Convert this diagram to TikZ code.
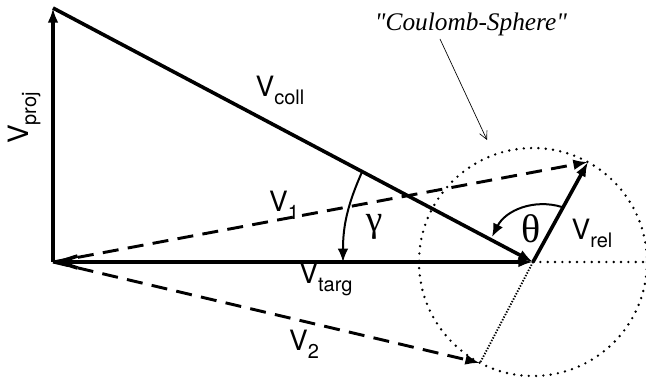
\documentclass[tikz,border=0pt]{standalone}
\usepackage{fontspec}
\setmainfont{TeX Gyre Heros}
\newfontfamily\serifit{Liberation Serif}
\usepackage{tikz}
\usetikzlibrary{arrows.meta}
\usetikzlibrary{calc}

\newcommand{\vel}[1]{V\raisebox{-6pt}{\fontsize{15}{15}\selectfont #1}}

\begin{document}
\begin{tikzpicture}[x=0.75pt,y=-0.75pt,
    vec/.style={line width=2.7pt,-{Latex[length=11pt,width=8pt]}},
    dvec/.style={line width=2.2pt,dash pattern=on 12pt off 7pt,-{Latex[length=11pt,width=8pt]}},
    dots/.style={line width=2pt,dash pattern=on 0pt off 5.5pt,line cap=round},
    ang/.style={line width=1.5pt,-{Latex[length=10pt,width=8pt]}},
    lab/.style={font=\fontsize{21}{21}\selectfont}]
\useasboundingbox (0,0) rectangle (646,384);

    \coordinate (O) at (53,262); 
    \coordinate (P) at (53,8); 
    \coordinate (C) at (533,262); 
    \coordinate (A) at (588,162); 
    \coordinate (B) at (480,363); 
    \coordinate (R) at (646,262); 

    % Coulomb sphere
    \draw[dots] (C) circle (114);
    \draw[dots] (C) -- (R);
    \draw[line width=1.4pt,dash pattern=on 1pt off 1.2pt] (C) -- (B);

    % velocity vectors
    \draw[vec] (O) -- (P);
    \draw[vec] (P) -- (C);
    \draw[vec,{Straight Barb[length=14pt,width=9pt]}-{Latex[length=11pt,width=8pt]}] (O) -- (C);
    \draw[vec] (C) -- (A);
    \draw[dvec] (O) -- (A);
    \draw[dvec] (O) -- (B);

    % angles
    \coordinate (g1) at (362,172); 
    \coordinate (g2) at (343,262); 
    \draw[ang] (g1) to[bend right=12] (g2);
    \coordinate (t1) at (562,207); 
    \coordinate (t2) at (492,237); 
    \draw[ang] (t1) to[bend right=40] (t2);

    % labels
    \node[lab] (lcoll) at (280,90) {\vel{coll}};
    \node[lab,rotate=90] (lproj) at (24,118) {\vel{proj}};
    \node[lab] (lone) at (284,205) {\vel{1}};
    \node[lab] (ltarg) at (326,279) {\vel{targ}};
    \node[lab] (ltwo) at (304,344) {\vel{2}};
    \node[lab] (lrel) at (592,233) {\vel{rel}};
    \node[font=\serifit\fontsize{28}{28}\selectfont] (lgam) at (374,227) {γ};
    \node[font=\serifit\fontsize{30}{30}\selectfont] (lthe) at (531,229) {θ};
    \node[font=\serifit\itshape\fontsize{19}{19}\selectfont] (lsph) at (471,24) {"Coulomb-Sphere"};
    \coordinate (s0) at (440,39); 
    \coordinate (sp) at (487,140); 
    \draw[line width=0.5pt,-{Straight Barb[length=6pt,width=6pt]}] (s0) -- (sp);

\end{tikzpicture}
\end{document}
